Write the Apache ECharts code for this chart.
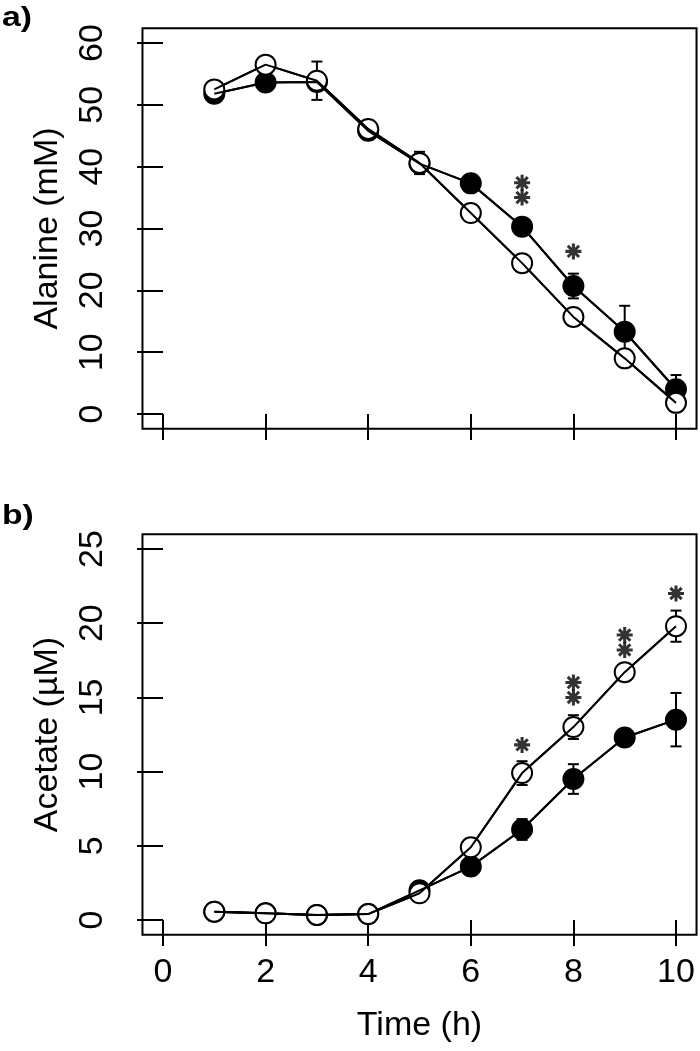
<!DOCTYPE html>
<html>
<head>
<meta charset="utf-8">
<script src="https://cdn.jsdelivr.net/npm/echarts@6/dist/echarts.min.js"></script>
<style>
html,body{margin:0;padding:0;background:#fff;}
#chart{width:700px;height:1051px;}
</style>
</head>
<body>
<div id="chart"></div>
<script>
// ---------- DATA ----------
const timeH = [1, 2, 3, 4, 5, 6, 7, 8, 9, 10];
const xTicks = [0, 2, 4, 6, 8, 10];

// Panel a: Alanine (mM)
const alanineFilled = [51.8, 53.6, 53.7, 45.8, 40.5, 37.3, 30.3, 20.7, 13.3, 4.0];
const alanineOpen   = [52.5, 56.5, 53.9, 46.1, 40.6, 32.5, 24.4, 15.7, 9.0, 1.8];
const alanineFilledErr = [null, null, null, null, null, null, null, 2.0, 4.2, 2.3];
const alanineOpenErr   = [null, null, 3.1, null, 1.8, null, null, null, null, null];
const alanineStars = [[7, 37.4], [7, 35.0], [8, 26.3]];

// Panel b: Acetate (µM)
const acetateFilled = [0.56, 0.45, 0.34, 0.40, 2.0, 3.6, 6.1, 9.5, 12.3, 13.5];
const acetateOpen   = [0.56, 0.45, 0.34, 0.40, 1.8, 4.9, 9.9, 13.0, 16.7, 19.8];
const acetateFilledErr = [null, null, null, null, null, null, 0.7, 1.0, null, 1.8];
const acetateOpenErr   = [null, null, null, null, null, null, 0.8, 0.8, null, 1.05];
const acetateStars = [[7, 11.8], [8, 16.0], [8, 15.0], [9, 19.2], [9, 18.2], [10, 22.0]];

// ---------- HELPERS ----------
const FONT = 'Liberation Sans';
const FS = 34;
const pairs = (xs, ys) => xs.map((x, i) => [x, ys[i]]);
const errTriples = (xs, ys, es) => xs.map((x, i) => es[i] == null ? null : [x, ys[i], es[i]]).filter(d => d);

function starPath() {
  const r = 10, w = 1.9, parts = [];
  [0, 45, 90, 135].forEach(deg => {
    const a = deg * Math.PI / 180, dx = Math.cos(a), dy = Math.sin(a), nx = -dy, ny = dx;
    const p = [
      [r * dx + w * nx, r * dy + w * ny],
      [r * dx - w * nx, r * dy - w * ny],
      [-r * dx - w * nx, -r * dy - w * ny],
      [-r * dx + w * nx, -r * dy + w * ny]
    ].map(q => q[0].toFixed(3) + ',' + q[1].toFixed(3));
    parts.push('M' + p[0] + 'L' + p[1] + 'L' + p[2] + 'L' + p[3] + 'Z');
  });
  return 'path://' + parts.join('');
}
const STAR = starPath();

function errSeries(idx, data) {
  return {
    type: 'custom', xAxisIndex: idx, yAxisIndex: idx, z: 1, silent: true,
    data: data,
    renderItem: function (params, api) {
      const x = api.value(0), y = api.value(1), e = api.value(2);
      const t = api.coord([x, y + e]), b = api.coord([x, y - e]);
      const hw = 5.5, st = { stroke: '#000', lineWidth: 2 };
      return { type: 'group', children: [
        { type: 'line', shape: { x1: t[0], y1: t[1], x2: b[0], y2: b[1] }, style: st },
        { type: 'line', shape: { x1: t[0] - hw, y1: t[1], x2: t[0] + hw, y2: t[1] }, style: st },
        { type: 'line', shape: { x1: b[0] - hw, y1: b[1], x2: b[0] + hw, y2: b[1] }, style: st }
      ]};
    }
  };
}
function markerSeries(idx, data, filled, z) {
  return {
    type: 'line', xAxisIndex: idx, yAxisIndex: idx, data: data, z: z,
    symbol: 'circle', symbolSize: 20, showAllSymbol: true,
    lineStyle: { color: '#000', width: 2 },
    itemStyle: { color: filled ? '#000' : '#fff', borderColor: '#000', borderWidth: 2 }
  };
}
function overlayLine(idx, data) {
  return {
    type: 'line', xAxisIndex: idx, yAxisIndex: idx, data: data, z: 4,
    showSymbol: false, symbol: 'none', lineStyle: { color: '#000', width: 2 }
  };
}
function starSeries(idx, data) {
  return {
    type: 'scatter', xAxisIndex: idx, yAxisIndex: idx, data: data, z: 5,
    symbol: STAR, symbolSize: 16, itemStyle: { color: '#000' }
  };
}
function xAxisDef(idx, showLabels) {
  return {
    type: 'value', gridIndex: idx, min: xTicks[0], max: xTicks[xTicks.length - 1], interval: 2,
    offset: 15,
    axisLine: { show: false },
    axisTick: { show: true, inside: false, length: 26, lineStyle: { color: '#000', width: 2 } },
    axisLabel: { show: showLabels, margin: 21, color: '#000', fontSize: FS, fontFamily: FONT },
    splitLine: { show: false },
    name: showLabels ? 'Time (h)' : '', nameLocation: 'middle', nameGap: 74,
    nameTextStyle: { color: '#000', fontSize: FS, fontFamily: FONT }
  };
}
function yAxisDef(idx, max, interval, name) {
  return {
    type: 'value', gridIndex: idx, min: 0, max: max, interval: interval,
    offset: 20,
    axisLine: { show: false },
    axisTick: { show: true, inside: false, length: 26, lineStyle: { color: '#000', width: 2 } },
    axisLabel: { show: true, rotate: 90, margin: 33, color: '#000', fontSize: FS, fontFamily: FONT },
    splitLine: { show: false },
    name: name, nameLocation: 'middle', nameGap: 78,
    nameTextStyle: { color: '#000', fontSize: FS, fontFamily: FONT }
  };
}

const aF = pairs(timeH, alanineFilled), aO = pairs(timeH, alanineOpen);
const bF = pairs(timeH, acetateFilled), bO = pairs(timeH, acetateOpen);

const chart = echarts.init(document.getElementById('chart'), null, { renderer: 'canvas' });
const option = {
  animation: false,
  backgroundColor: '#fff',
  grid: [
    { left: 163, right: 24, top: 43, height: 371 },
    { left: 163, right: 24, top: 549, height: 371 }
  ],
  xAxis: [xAxisDef(0, false), xAxisDef(1, true)],
  yAxis: [yAxisDef(0, 60, 10, 'Alanine (mM)'), yAxisDef(1, 25, 5, 'Acetate (µM)')],
  series: [
    errSeries(0, errTriples(timeH, alanineFilled, alanineFilledErr)),
    errSeries(0, errTriples(timeH, alanineOpen, alanineOpenErr)),
    markerSeries(0, aF, true, 2),
    markerSeries(0, aO, false, 3),
    overlayLine(0, aF), overlayLine(0, aO),
    starSeries(0, alanineStars),
    errSeries(1, errTriples(timeH, acetateFilled, acetateFilledErr)),
    errSeries(1, errTriples(timeH, acetateOpen, acetateOpenErr)),
    markerSeries(1, bF, true, 2),
    markerSeries(1, bO, false, 3),
    overlayLine(1, bF), overlayLine(1, bO),
    starSeries(1, acetateStars)
  ]
};
chart.setOption(option);

// Plot boxes (R-style 4% axis extension around the data range)
function boxFor(idx, xmin, xmax, ymin, ymax) {
  const px = (xmax - xmin) * 0.04, py = (ymax - ymin) * 0.04;
  const p0 = chart.convertToPixel({ gridIndex: idx }, [xmin - px, ymax + py]);
  const p1 = chart.convertToPixel({ gridIndex: idx }, [xmax + px, ymin - py]);
  return {
    type: 'rect', z: 10, silent: true,
    shape: { x: p0[0], y: p0[1], width: p1[0] - p0[0], height: p1[1] - p0[1] },
    style: { fill: 'none', stroke: '#000', lineWidth: 2 }
  };
}
chart.setOption({
  graphic: [
    boxFor(0, 0, 10, 0, 60),
    boxFor(1, 0, 10, 0, 25),
    { type: 'text', left: 2, top: 5, scaleX: 1.25, z: 10,
      style: { text: 'a)', fontSize: 27, fontWeight: 'bold', fontFamily: FONT, fill: '#000' } },
    { type: 'text', left: 2, top: 503, scaleX: 1.25, z: 10,
      style: { text: 'b)', fontSize: 27, fontWeight: 'bold', fontFamily: FONT, fill: '#000' } }
  ]
});
</script>
</body>
</html>
